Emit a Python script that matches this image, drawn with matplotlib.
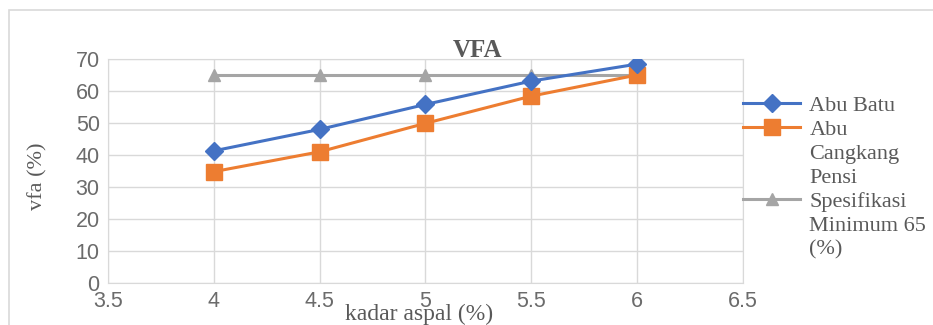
import matplotlib.pyplot as plt
from matplotlib.lines import Line2D
from matplotlib.patches import Rectangle

kadar = [4, 4.5, 5, 5.5, 6]
abu_batu = [41.3, 48.0, 55.8, 63.1, 68.4]
abu_cangkang = [34.8, 41.0, 49.9, 58.4, 65.0]
spesifikasi = [65, 65, 65, 65, 65]

x_ticks = [3.5, 4, 4.5, 5, 5.5, 6, 6.5]
x_labels = ['3.5', '4', '4.5', '5', '5.5', '6', '6.5']

plt.rcParams['font.family'] = ['Liberation Serif', 'DejaVu Serif']

fig = plt.figure(figsize=(9.33, 3.25), dpi=100)
ax = fig.add_axes([0.1158, 0.1292, 0.6805, 0.6893])

# outer chart border
fig.patches.append(Rectangle((9/933, -0.05), 1.0, 1 - 10/325 + 0.05, transform=fig.transFigure,
                             fill=False, edgecolor='#d9d9d9', lw=1.2))

l3, = ax.plot(kadar, spesifikasi, color='#a5a5a5', lw=2.2, marker='^', ms=9, zorder=2)
l2, = ax.plot(kadar, abu_cangkang, color='#ed7d31', lw=2.2, marker='s', ms=11, zorder=3)
l1, = ax.plot(kadar, abu_batu, color='#4472c4', lw=2.2, marker='D', ms=9, zorder=4)

ax.set_xlim(3.5, 6.5)
ax.set_ylim(0, 70)
ax.set_xticks(x_ticks)
ax.set_xticklabels(x_labels)
ax.set_yticks(range(0, 71, 10))
ax.grid(True, color='#d9d9d9', lw=1)
ax.set_axisbelow(True)
for s in ax.spines.values():
    s.set_color('#d9d9d9')
ax.tick_params(length=0, labelsize=15.5, labelcolor='#6b6b6b')
ax.tick_params(axis='x', pad=6)
ax.tick_params(axis='y', pad=6)
for t in ax.get_xticklabels() + ax.get_yticklabels():
    t.set_fontfamily('Liberation Sans')

fig.text(0.512, 0.825, 'VFA', fontsize=18, fontweight='bold', color='#595959', ha='center', va='baseline')
fig.text(0.449, 0.015, 'kadar aspal (%)', fontsize=17, color='#595959', ha='center')
fig.text(0.041, 0.458, 'vfa (%)', fontsize=16, color='#595959', rotation=90, va='center', ha='center')

# legend rows, wrapped labels continue on rows with no handle
blank = Line2D([], [], color='none')
handles = [l1, l2, blank, blank, l3, blank, blank]
rows = ['Abu Batu', 'Abu', 'Cangkang', 'Pensi', 'Spesifikasi', 'Minimum 65', '(%)']
fig.legend(handles, rows, loc='upper left', bbox_to_anchor=(0.796, 0.706),
           frameon=False, fontsize=16, labelcolor='#595959', handlelength=2.6,
           handletextpad=0.4, labelspacing=0.15, borderpad=0, borderaxespad=0)

fig.savefig('out.png', dpi=100)
